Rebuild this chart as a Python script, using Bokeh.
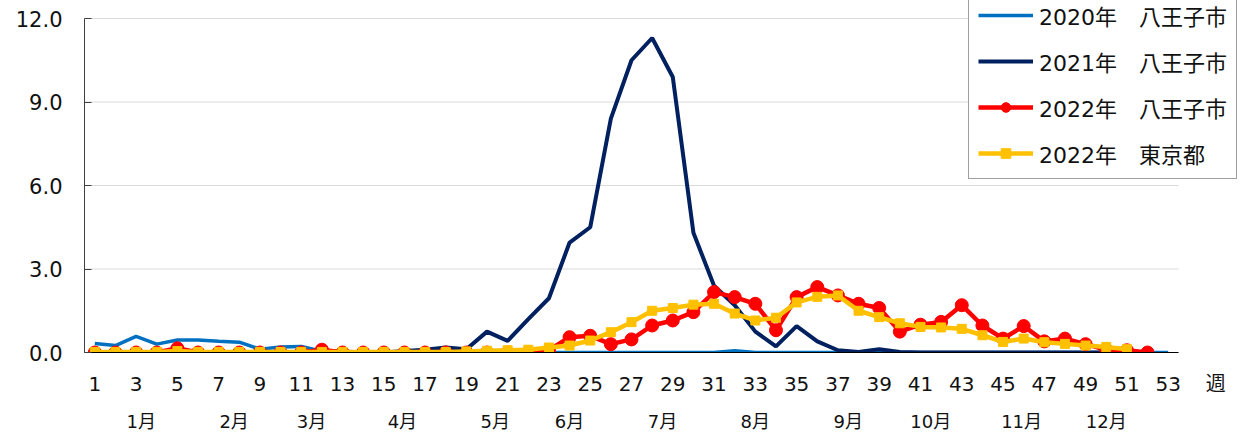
from bokeh.plotting import figure
from bokeh.models import Range1d, FixedTicker, LinearAxis, NumeralTickFormatter
from bokeh.embed import file_html
from bokeh.resources import INLINE

FONT = "'DejaVu Sans', 'Noto Sans CJK JP'"

weeks_2020 = list(range(1, 54))
weeks_2021 = list(range(1, 53))
weeks_2022 = list(range(1, 53))
weeks_tokyo = list(range(1, 52))

hachioji_2020 = [0.32, 0.25, 0.58, 0.3, 0.45, 0.45, 0.4, 0.37, 0.12, 0.2, 0.22, 0.05,
                 0.05, 0.0, 0.0, 0.0, 0.05, 0.08, 0.05, 0.03, 0.0, 0.0, 0.0, 0.0,
                 0.0, 0.0, 0.0, 0.0, 0.0, 0.0, 0.0, 0.06, 0.0, 0.0, 0.0, 0.0,
                 0.0, 0.0, 0.0, 0.0, 0.0, 0.0, 0.0, 0.0, 0.0, 0.0, 0.0, 0.0,
                 0.0, 0.0, 0.0, 0.0, 0.0]
hachioji_2021 = [0.0, 0.0, 0.0, 0.0, 0.0, 0.0, 0.0, 0.0, 0.0, 0.0, 0.0, 0.0,
                 0.0, 0.0, 0.0, 0.05, 0.1, 0.18, 0.12, 0.75, 0.42, 1.2, 1.95, 3.95,
                 4.5, 8.4, 10.5, 11.3, 9.9, 4.3, 2.4, 1.7, 0.75, 0.22, 0.95, 0.4,
                 0.08, 0.02, 0.12, 0.02, 0.0, 0.0, 0.0, 0.0, 0.0, 0.0, 0.0, 0.0,
                 0.0, 0.0, 0.0, 0.0]
hachioji_2022 = [0.0, 0.0, 0.0, 0.0, 0.15, 0.0, 0.0, 0.0, 0.0, 0.0, 0.0, 0.1,
                 0.0, 0.0, 0.0, 0.0, 0.0, 0.0, 0.0, 0.0, 0.0, 0.0, 0.08, 0.55,
                 0.6, 0.3, 0.47, 0.97, 1.15, 1.45, 2.17, 1.99, 1.75, 0.8, 1.99, 2.35,
                 2.05, 1.75, 1.6, 0.75, 1.0, 1.1, 1.7, 0.97, 0.5, 0.95, 0.4, 0.5,
                 0.3, 0.1, 0.08, 0.0]
tokyo_2022 = [0.02, 0.02, 0.02, 0.02, 0.05, 0.02, 0.02, 0.02, 0.02, 0.02, 0.02, 0.02,
              0.02, 0.02, 0.02, 0.02, 0.02, 0.02, 0.04, 0.06, 0.08, 0.1, 0.18, 0.25,
              0.43, 0.73, 1.09, 1.5, 1.6, 1.72, 1.75, 1.4, 1.15, 1.25, 1.8, 2.0,
              2.05, 1.5, 1.27, 1.05, 0.92, 0.9, 0.85, 0.62, 0.38, 0.5, 0.37, 0.31,
              0.25, 0.2, 0.12]

series_labels = ["2020年　八王子市", "2021年　八王子市", "2022年　八王子市", "2022年　東京都"]
week_ticks = list(range(1, 54, 2))
y_ticks = [0, 3, 6, 9, 12]
month_labels = ["1月", "2月", "3月", "4月", "5月", "6月", "7月", "8月", "9月", "10月", "11月", "12月"]
month_pos = [3.25, 7.75, 11.5, 15.9, 20.4, 24.0, 28.5, 33.0, 37.5, 41.5, 45.9, 50.0]
unit_label = "週"
unit_pos = 55.3

X_START, X_END = 0.5, 53.5      # category axis extent
Y_MAX = 12.0

p = figure(width=1249, height=441, output_backend="svg", toolbar_location=None,
           x_range=Range1d(X_START, 56.94), y_range=Range1d(0, 12.647),
           min_border_left=84, min_border_right=0, min_border_top=0, min_border_bottom=89)
p.outline_line_color = None
p.background_fill_color = "white"
p.xgrid.visible = False
p.ygrid.visible = False

# horizontal gridlines limited to the plot area
n = len(y_ticks)
p.segment(x0=[X_START] * n, y0=y_ticks, x1=[X_END] * n, y1=y_ticks,
          line_color="#d9d9d9", line_width=1.2)

# axis line only
a0 = p.xaxis[0]
a0.ticker = FixedTicker(ticks=[])
a0.bounds = (X_START, X_END)
a0.axis_line_color = "black"
a0.axis_line_width = 1
a0.major_tick_in = 0
a0.major_tick_out = 0
a0.minor_tick_line_color = None
a0.major_label_standoff = 0

# week numbers + unit
wa = LinearAxis(ticker=FixedTicker(ticks=week_ticks + [unit_pos]),
                major_label_overrides={unit_pos: unit_label})
wa.axis_line_color = None
wa.major_tick_line_color = None
wa.minor_tick_line_color = None
wa.major_label_standoff = 13
wa.major_label_text_font = FONT
wa.major_label_text_font_size = "20px"
wa.major_label_text_color = "#111111"
p.add_layout(wa, "below")

# month axis
ma = LinearAxis(ticker=FixedTicker(ticks=month_pos),
                major_label_overrides={pos: lab for pos, lab in zip(month_pos, month_labels)})
ma.axis_line_color = None
ma.major_tick_line_color = None
ma.minor_tick_line_color = None
ma.major_label_standoff = 6
ma.major_label_text_font = FONT
ma.major_label_text_font_size = "18px"
ma.major_label_text_color = "#111111"
p.add_layout(ma, "below")

# y axis
ya = p.yaxis[0]
ya.ticker = FixedTicker(ticks=y_ticks)
ya.bounds = (0, Y_MAX)
ya.formatter = NumeralTickFormatter(format="0.0")
ya.major_tick_in = 7
ya.major_tick_out = 0
ya.major_tick_line_color = "#404040"
ya.minor_tick_line_color = None
ya.axis_line_color = "#404040"
ya.axis_line_width = 1
ya.major_label_standoff = 22
ya.major_label_text_font = FONT
ya.major_label_text_font_size = "21px"
ya.major_label_text_color = "#111111"

p.line(weeks_2020, hachioji_2020, line_color="#0070C0", line_width=3.5,
       legend_label=series_labels[0])
p.line(weeks_2021, hachioji_2021, line_color="#002060", line_width=4,
       legend_label=series_labels[1])
p.line(weeks_2022, hachioji_2022, line_color="#FF0000", line_width=4.5,
       legend_label=series_labels[2])
p.scatter(weeks_2022, hachioji_2022, marker="circle", size=13, fill_color="#FF0000",
          line_color="#FF0000", legend_label=series_labels[2])
p.line(weeks_tokyo, tokyo_2022, line_color="#FFC000", line_width=4.5,
       legend_label=series_labels[3])
p.scatter(weeks_tokyo, tokyo_2022, marker="square", size=9, fill_color="#FFC000",
          line_color="#FFC000", legend_label=series_labels[3])

lg = p.legend[0]
lg.location = (884, 173)
lg.label_text_font = FONT
lg.label_text_font_size = "22px"
lg.label_text_color = "#111111"
lg.glyph_width = 55
lg.glyph_height = 24
lg.label_height = 24
lg.label_standoff = 6
lg.spacing = 14
lg.padding = 9
lg.margin = 0
lg.border_line_color = "#404040"
lg.border_line_width = 1.3
lg.background_fill_color = "white"
lg.background_fill_alpha = 1.0

open("out.html", "w").write(file_html(p, INLINE))
